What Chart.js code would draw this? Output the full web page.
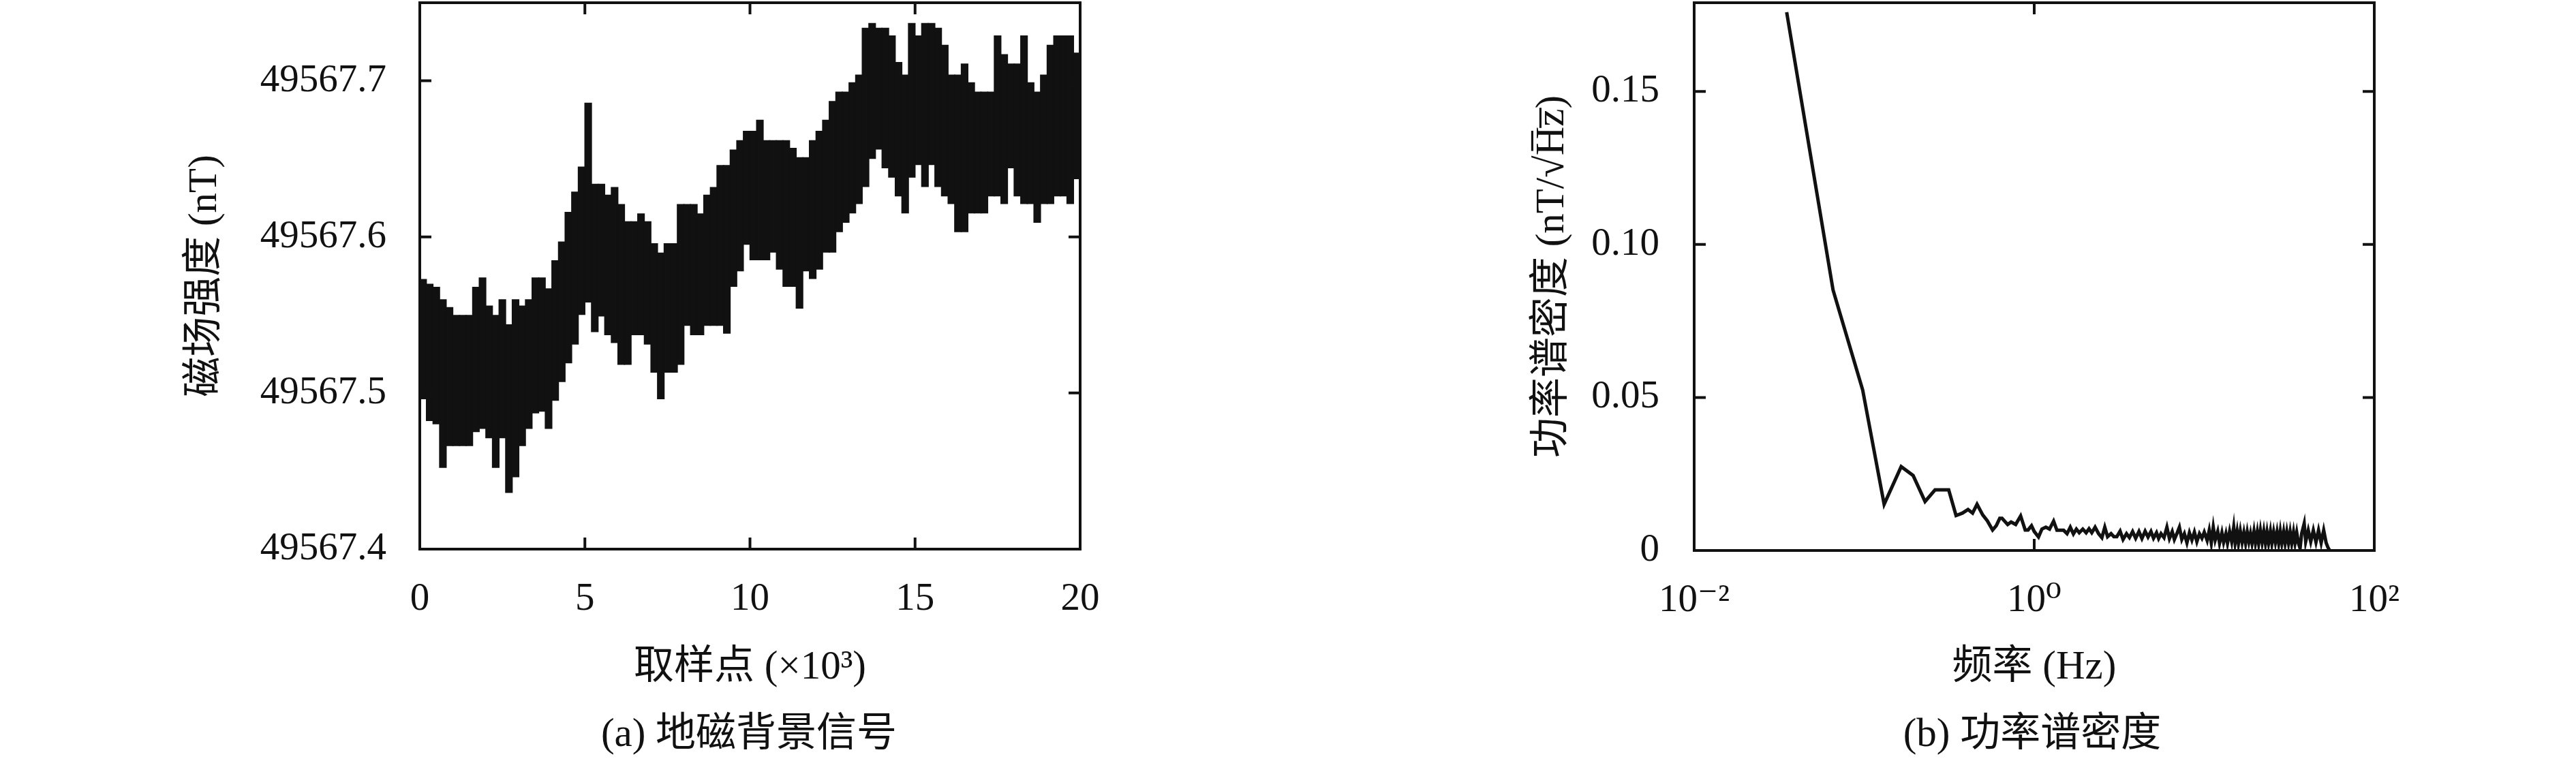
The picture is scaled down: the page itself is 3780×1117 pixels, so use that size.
<!DOCTYPE html>
<html><head><meta charset="utf-8">
<script src="https://cdn.jsdelivr.net/npm/chart.js@4.4.1/dist/chart.umd.min.js"></script>
<style>
html,body{margin:0;padding:0;background:#fff;}
#page{position:relative;width:3780px;height:1117px;overflow:hidden;background:#fff;}
canvas{position:absolute;top:0;}
.cap{position:absolute;font-family:'Liberation Serif','Noto Sans CJK SC',serif;font-size:59px;color:#111;white-space:nowrap;transform:translate(-50%,-50%);line-height:1;}
</style></head><body>
<div id="page">
<canvas id="c1" width="1700" height="1117" style="left:0px"></canvas>
<canvas id="c2" width="1780" height="1117" style="left:2000px"></canvas>
<div class="cap" style="left:1099px;top:1075px">(a) 地磁背景信号</div>
<div class="cap" style="left:2982px;top:1075px">(b) 功率谱密度</div>
</div>
<script>
// ---------- (a) geomagnetic background signal: per-bin (200 samples) envelope, sample index in thousands ----------
const sampleBinK = [0.1,0.3,0.5,0.7,0.9,1.1,1.3,1.5,1.7,1.9,2.1,2.3,2.5,2.7,2.9,3.1,3.3,3.5,3.7,3.9,
4.1,4.3,4.5,4.7,4.9,5.1,5.3,5.5,5.7,5.9,6.1,6.3,6.5,6.7,6.9,7.1,7.3,7.5,7.7,7.9,
8.1,8.3,8.5,8.7,8.9,9.1,9.3,9.5,9.7,9.9,10.1,10.3,10.5,10.7,10.9,11.1,11.3,11.5,11.7,11.9,
12.1,12.3,12.5,12.7,12.9,13.1,13.3,13.5,13.7,13.9,14.1,14.3,14.5,14.7,14.9,15.1,15.3,15.5,15.7,15.9,
16.1,16.3,16.5,16.7,16.9,17.1,17.3,17.5,17.7,17.9,18.1,18.3,18.5,18.7,18.9,19.1,19.3,19.5,19.7,19.9];
const fieldHigh = [49567.573,49567.570,49567.568,49567.560,49567.555,49567.550,49567.550,49567.550,49567.568,49567.574,
49567.556,49567.550,49567.560,49567.544,49567.560,49567.556,49567.560,49567.574,49567.574,49567.567,
49567.585,49567.597,49567.616,49567.629,49567.645,49567.686,49567.634,49567.634,49567.627,49567.632,
49567.621,49567.610,49567.610,49567.615,49567.610,49567.596,49567.590,49567.596,49567.596,49567.621,
49567.621,49567.621,49567.615,49567.627,49567.632,49567.646,49567.646,49567.656,49567.662,49567.668,
49567.668,49567.675,49567.662,49567.662,49567.662,49567.662,49567.657,49567.651,49567.651,49567.662,
49567.668,49567.675,49567.687,49567.693,49567.693,49567.699,49567.704,49567.734,49567.737,49567.734,
49567.734,49567.729,49567.712,49567.704,49567.737,49567.729,49567.737,49567.737,49567.734,49567.723,
49567.704,49567.704,49567.711,49567.699,49567.693,49567.693,49567.693,49567.729,49567.717,49567.711,
49567.711,49567.729,49567.699,49567.693,49567.704,49567.723,49567.729,49567.729,49567.729,49567.718];
const fieldLow = [49567.496,49567.482,49567.480,49567.452,49567.466,49567.466,49567.466,49567.466,49567.475,49567.477,
49567.471,49567.452,49567.471,49567.436,49567.446,49567.466,49567.477,49567.487,49567.488,49567.477,
49567.495,49567.507,49567.519,49567.531,49567.550,49567.558,49567.539,49567.549,49567.537,49567.532,
49567.518,49567.518,49567.537,49567.537,49567.531,49567.513,49567.496,49567.513,49567.513,49567.518,
49567.543,49567.537,49567.537,49567.543,49567.543,49567.543,49567.538,49567.568,49567.578,49567.595,
49567.585,49567.585,49567.585,49567.590,49567.579,49567.568,49567.568,49567.554,49567.578,49567.573,
49567.579,49567.590,49567.590,49567.603,49567.609,49567.615,49567.621,49567.632,49567.650,49567.656,
49567.644,49567.638,49567.626,49567.615,49567.638,49567.646,49567.632,49567.646,49567.632,49567.626,
49567.621,49567.603,49567.603,49567.615,49567.615,49567.615,49567.626,49567.626,49567.621,49567.644,
49567.626,49567.621,49567.621,49567.609,49567.621,49567.621,49567.626,49567.626,49567.621,49567.637];
const xTicksA = [0,5,10,15,20];
const xTickLabelsA = ['0','5','10','15','20'];
const yTicksA = [49567.4,49567.5,49567.6,49567.7];
const yTickLabelsA = ['49567.4','49567.5','49567.6','49567.7'];

// ---------- (b) power spectral density ----------
const psdFreq = [0.035,0.0656,0.098,0.131,0.165,0.194,0.228,0.261,0.314,0.347,0.378,0.408,0.434,0.461,0.498,0.530,0.569,0.598,0.627,0.647,
0.698,0.731,0.778,0.832,0.885,0.920,0.964,
1.00,1.06,1.11,1.17,1.23,1.30,1.36,1.49,1.56,1.63,1.70,1.77,1.84,1.93,2.02,2.10,2.18,2.28,2.39,2.50,2.60,2.70,2.83,2.94,
3.06,3.20,3.33,3.49,3.63,3.79,3.95,4.13,4.30,4.49,4.67,4.86,5.03,5.24,5.39,5.57,5.80,6.03,6.24,6.48,6.67,6.90,7.14,7.38,7.64,7.91,
8.18,8.46,8.75,9.05,9.37,9.69,10.0,10.4,10.7,11.0,11.3,11.6,12.0,12.3,12.7,13.0,13.4,13.7,14.1,14.5,14.9,15.2,15.6,15.9,16.3,16.7,
17.1,17.5,17.9,18.3,18.7,19.1,19.6,20.0,20.5,20.9,21.4,21.9,22.4,22.9,23.4,23.9,24.5,25.0,25.6,26.2,26.8,27.4,28.0,28.6,29.3,29.9,
30.6,31.3,32.0,32.7,33.5,34.2,35.0,35.8,36.6,37.4,38.7,39.5,40.9,42.3,43.8,45.4,47.0,48.7,50.4,52.1,53.3,54.5];
const psdValue = [0.1759,0.0851,0.0524,0.0151,0.0274,0.0245,0.0160,0.0198,0.0198,0.0114,0.0122,0.0134,0.0122,0.0151,0.0116,0.0097,0.0067,0.0081,0.0105,0.0105,
0.0085,0.0093,0.0085,0.0113,0.0067,0.0067,0.0081,
0.0062,0.0044,0.0070,0.0076,0.0070,0.0096,0.0066,0.0066,0.0055,0.0076,0.0054,0.0070,0.0058,0.0070,0.0058,0.0071,0.0058,0.0076,0.0055,0.0042,0.0076,0.0045,0.0055,0.0045,
0.0045,0.0063,0.0036,0.0055,0.0042,0.0062,0.0040,0.0062,0.0039,0.0063,0.0044,0.0062,0.0040,0.0058,0.0039,0.0055,0.0042,0.0076,0.0039,0.0062,0.0036,0.0055,0.0076,0.0036,0.0055,0.0025,
0.0058,0.0034,0.0060,0.0029,0.0055,0.0040,0.0060,0.0033,0.0066,0.0025,0.0076,0.0034,0.0062,0.0024,0.0058,0.0027,0.0055,0.0024,0.0062,0.0029,0.0076,0.0025,0.0062,0.0024,0.0063,0.0027,
0.0058,0.0024,0.0060,0.0029,0.0055,0.0024,0.0062,0.0025,0.0060,0.0024,0.0065,0.0027,0.0062,0.0024,0.0060,0.0025,0.0062,0.0024,0.0060,0.0027,0.0060,0.0024,0.0062,0.0025,0.0060,0.0024,
0.0060,0.0025,0.0060,0.0024,0.0060,0.0025,0.0058,0.0024,0.0007,0.0055,0.0088,0.0029,0.0066,0.0029,0.0066,0.0027,0.0066,0.0025,0.0066,0.0025,0.0011,0.0001];
const xTicksB = [0.01,1,100];
const xTickLabelsB = ['10\u207B\u00B2','10\u2070','10\u00B2'];
const yTicksB = [0,0.05,0.10,0.15];
const yTickLabelsB = ['0','0.05','0.10','0.15'];

const INK = '#111111';
const SERIF = "'Liberation Serif','DejaVu Serif',serif";
const MIXED = "'Liberation Serif','Noto Sans CJK SC',serif";

const frameTicks = {
  id: 'frameTicks',
  afterDatasetsDraw(chart, args, opts) {
    const {ctx, chartArea: a, scales} = chart;
    const L = opts.tickLen;
    ctx.save();
    ctx.strokeStyle = INK;
    ctx.lineWidth = opts.lineWidth;
    ctx.lineCap = 'butt';
    ctx.beginPath();
    scales.x.ticks.forEach(t => {
      const px = scales.x.getPixelForValue(t.value);
      ctx.moveTo(px, a.bottom); ctx.lineTo(px, a.bottom - L);
      ctx.moveTo(px, a.top); ctx.lineTo(px, a.top + L);
    });
    scales.y.ticks.forEach(t => {
      const py = scales.y.getPixelForValue(t.value);
      ctx.moveTo(a.left, py); ctx.lineTo(a.left + L, py);
      ctx.moveTo(a.right, py); ctx.lineTo(a.right - L, py);
    });
    ctx.stroke();
    ctx.strokeRect(a.left, a.top, a.right - a.left, a.bottom - a.top);
    ctx.restore();
  }
};

function axisCommon(extra) {
  return Object.assign({
    grid: {display: false, drawTicks: false},
    border: {display: false}
  }, extra);
}
function fitX(h) {
  return s => { s.height = h; s.paddingLeft = 0; s.paddingRight = 0; s.paddingTop = 0; s.paddingBottom = 0; };
}
function fitY(w) {
  return s => { s.width = w; s.paddingLeft = 0; s.paddingRight = 0; s.paddingTop = 0; s.paddingBottom = 0; };
}

new Chart(document.getElementById('c1'), {
  type: 'bar',
  data: {
    datasets: [{
      data: sampleBinK.map((k, i) => ({x: k, y: [fieldLow[i], fieldHigh[i]]})),
      backgroundColor: INK,
      borderWidth: 0,
      barPercentage: 1.15,
      categoryPercentage: 1
    }]
  },
  options: {
    responsive: false, animation: false, events: [],
    layout: {padding: {left: 266, top: 4, right: 115, bottom: 101}},
    plugins: {legend: {display: false}, tooltip: {enabled: false}, frameTicks: {tickLen: 17, lineWidth: 4}},
    scales: {
      x: axisCommon({
        type: 'linear', min: 0, max: 20, offset: false,
        afterBuildTicks: s => { s.ticks = xTicksA.map(v => ({value: v})); },
        afterFit: fitX(210),
        ticks: {font: {family: SERIF, size: 57}, color: INK, padding: 40, maxRotation: 0,
                callback: (v, i) => xTickLabelsA[i]},
        title: {display: true, text: '取样点 (×10³)', font: {family: MIXED, size: 59}, color: INK, padding: 0}
      }),
      y: axisCommon({
        type: 'linear', min: 49567.4, max: 49567.75,
        afterBuildTicks: s => { s.ticks = yTicksA.map(v => ({value: v})); },
        afterFit: fitY(350),
        ticks: {font: {family: SERIF, size: 57}, color: INK, padding: 49,
                callback: (v, i) => yTickLabelsA[i]},
        title: {display: true, text: '磁场强度 (nT)', font: {family: MIXED, size: 59}, color: INK, padding: 0}
      })
    }
  },
  plugins: [frameTicks]
});

new Chart(document.getElementById('c2'), {
  type: 'line',
  data: {
    datasets: [{
      data: psdFreq.map((f, i) => ({x: f, y: psdValue[i]})),
      borderColor: INK, borderWidth: 5, pointRadius: 0, tension: 0, fill: false
    }]
  },
  options: {
    responsive: false, animation: false, events: [],
    layout: {padding: {left: 243, top: 4, right: 296, bottom: 101}},
    plugins: {legend: {display: false}, tooltip: {enabled: false}, frameTicks: {tickLen: 17, lineWidth: 4}},
    scales: {
      x: axisCommon({
        type: 'logarithmic', min: 0.01, max: 100,
        afterBuildTicks: s => { s.ticks = xTicksB.map(v => ({value: v})); },
        afterFit: fitX(208),
        ticks: {font: {family: SERIF, size: 57}, color: INK, padding: 40, maxRotation: 0,
                callback: (v, i) => xTickLabelsB[i]},
        title: {display: true, text: '频率 (Hz)', font: {family: MIXED, size: 59}, color: INK, padding: 0}
      }),
      y: axisCommon({
        type: 'linear', min: 0, max: 0.179,
        afterBuildTicks: s => { s.ticks = yTicksB.map(v => ({value: v})); },
        afterFit: fitY(243),
        ticks: {font: {family: SERIF, size: 57}, color: INK, padding: 51,
                callback: (v, i) => yTickLabelsB[i]},
        title: {display: true, text: '功率谱密度 (nT/√H\u0305z\u0305)', font: {family: MIXED, size: 59}, color: INK, padding: 0}
      })
    }
  },
  plugins: [frameTicks]
});
</script>
</body></html>
